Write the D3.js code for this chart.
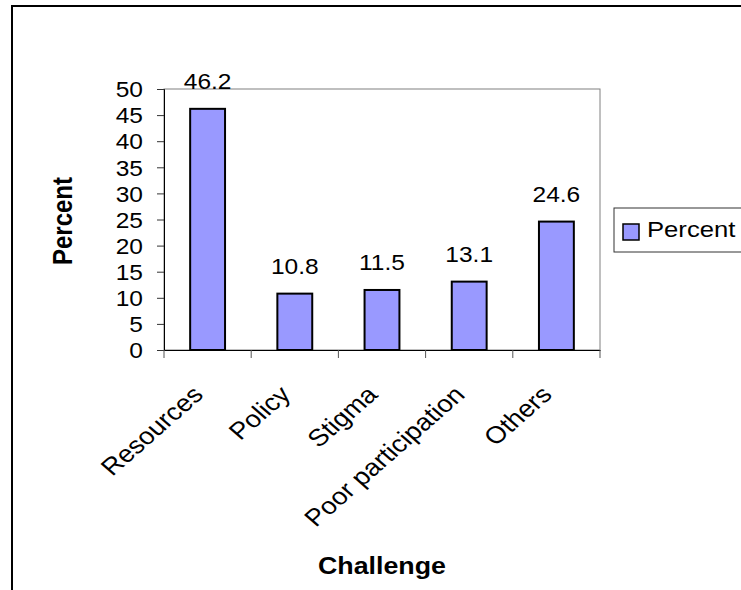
<!DOCTYPE html>
<html>
<head>
<meta charset="utf-8">
<script src="https://cdn.jsdelivr.net/npm/d3@7"></script>
<style>
  body { margin: 0; background: #fff; }
  text { font-family: "Liberation Sans", Arial, sans-serif; fill: #000; }
</style>
</head>
<body>
<div id="chart"></div>
<script>
// data
const categories = ["Resources", "Policy", "Stigma", "Poor participation", "Others"]
const percent = [46.2, 10.8, 11.5, 13.1, 24.6]
const yTicks = [0, 5, 10, 15, 20, 25, 30, 35, 40, 45, 50]
const seriesName = "Percent"

const W = 741, H = 590
const sx = 1.14 // the original picture is a bit wider than tall, text too
const plot = {left: 164, top: 89, right: 600, bottom: 350}

const svg = d3.select("#chart").append("svg")
    .attr("width", W)
    .attr("height", H)

svg.append("rect").attr("width", W).attr("height", H).attr("fill", "#fff")

// outer chart border (runs off the right and bottom edge)
svg.append("rect")
    .attr("x", 12).attr("y", 6)
    .attr("width", W + 20).attr("height", H + 20)
    .attr("fill", "none").attr("stroke", "#000").attr("stroke-width", 2)

const y = d3.scaleLinear().domain([0, 50]).range([plot.bottom, plot.top])
const xTickScale = d3.scaleBand().domain(categories).range([plot.left, plot.right])
const x = d3.scaleBand().domain(categories).range([plot.left, plot.right])
    .paddingInner(0.6).paddingOuter(0.3)

// plot area frame (grey top / right)
svg.append("rect")
    .attr("x", plot.left).attr("y", plot.top)
    .attr("width", plot.right - plot.left).attr("height", plot.bottom - plot.top)
    .attr("fill", "none").attr("stroke", "#808080").attr("stroke-width", 1)

// stretch a text horizontally around its own anchor point
const stretch = (sel, extra) => sel.each(function () {
    const t = d3.select(this)
    const tx = +t.attr("x") || 0, ty = +t.attr("y") || 0
    t.attr("x", 0).attr("y", 0)
     .attr("transform", `translate(${tx},${ty}) scale(${sx},1)` + (extra || ""))
})

// y axis
const yAxis = svg.append("g")
    .attr("transform", `translate(${plot.left},0)`)
    .call(d3.axisLeft(y).tickValues(yTicks).tickSize(7).tickPadding(14).tickFormat(d3.format("d")))
yAxis.select(".domain").attr("stroke", "#000")
yAxis.selectAll(".tick line").attr("stroke", "#333")
yAxis.selectAll(".tick text")
    .style("font-size", "21.5px")
    .attr("dy", "0.36em")
    .call(stretch)

// x axis, ticks between the categories
const xAxis = svg.append("g")
    .attr("transform", `translate(0,${plot.bottom})`)
    .call(d3.axisBottom(xTickScale).tickSize(0).tickFormat(""))
xAxis.select(".domain").attr("stroke", "#000")
xAxis.selectAll(".tick").remove()

const bounds = categories.map(c => xTickScale(c)).concat([plot.right])
xAxis.selectAll("line.sep")
    .data(bounds)
    .enter()
    .append("line")
    .attr("class", "sep")
    .attr("x1", d => d).attr("x2", d => d)
    .attr("y1", 0).attr("y2", 8)
    .attr("stroke", "#555")

// category labels at -45 degrees
svg.selectAll("text.cat")
    .data(categories)
    .enter()
    .append("text")
    .attr("class", "cat")
    .attr("text-anchor", "end")
    .style("font-size", "24px")
    .attr("transform", d => {
        const cx = xTickScale(d) + xTickScale.bandwidth() / 2 - 3
        return `translate(${cx},396) scale(${sx},1) rotate(-45)`
    })
    .text(d => d)

// bars
svg.selectAll("rect.bar")
    .data(percent)
    .enter()
    .append("rect")
    .attr("class", "bar")
    .attr("x", (d, i) => x(categories[i]))
    .attr("y", d => y(d))
    .attr("width", x.bandwidth())
    .attr("height", d => y(0) - y(d))
    .attr("fill", "#9999FF")
    .attr("stroke", "#000")
    .attr("stroke-width", 2)

// value labels
svg.selectAll("text.val")
    .data(percent)
    .enter()
    .append("text")
    .attr("class", "val")
    .attr("text-anchor", "middle")
    .style("font-size", "21.5px")
    .attr("x", (d, i) => x(categories[i]) + x.bandwidth() / 2)
    .attr("y", d => y(d) - 20)
    .text(d => d3.format(".1f")(d))
    .call(stretch)

// axis titles
svg.append("text")
    .attr("text-anchor", "middle")
    .style("font-size", "24px").style("font-weight", "bold")
    .attr("transform", `translate(72,221) scale(${sx},1) rotate(-90)`)
    .text("Percent")

svg.append("text")
    .attr("text-anchor", "middle")
    .style("font-size", "23.5px").style("font-weight", "bold")
    .attr("x", 382).attr("y", 574)
    .text("Challenge")
    .call(stretch)

// legend
const legend = svg.append("g")
legend.append("rect")
    .attr("x", 614).attr("y", 208)
    .attr("width", 200).attr("height", 44)
    .attr("fill", "#fff").attr("stroke", "#333").attr("stroke-width", 1)
legend.append("rect")
    .attr("x", 623).attr("y", 224)
    .attr("width", 16).attr("height", 16)
    .attr("fill", "#9999FF").attr("stroke", "#000").attr("stroke-width", 1.5)
legend.append("text")
    .style("font-size", "22.5px")
    .attr("x", 647).attr("y", 237)
    .text(seriesName)
    .call(stretch)
</script>
</body>
</html>
